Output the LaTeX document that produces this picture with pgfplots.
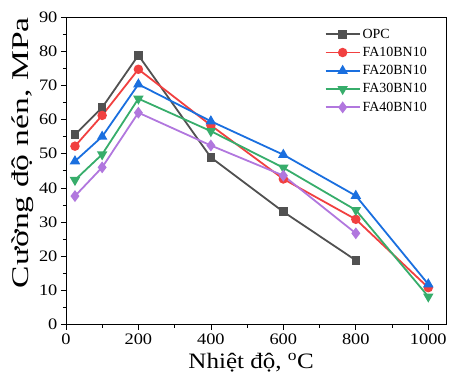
\documentclass[border=0pt]{standalone}
\usepackage{fontspec}
\setmainfont{Liberation Serif}
\newfontfamily\tickfont{Liberation Serif}[FakeStretch=1.15]
\newfontfamily\xlfont{Liberation Serif}[FakeStretch=1.14]
\newfontfamily\ylfont{Liberation Serif}[FakeStretch=1.4]
\usepackage{pgfplots}
\pgfplotsset{compat=1.18}
\definecolor{cOPC}{HTML}{515151}
\definecolor{cA}{HTML}{F14040}
\definecolor{cB}{HTML}{1A6FDF}
\definecolor{cC}{HTML}{37AD6B}
\definecolor{cD}{HTML}{B177DE}
\begin{document}
\begin{tikzpicture}
\begin{axis}[
  scale only axis, width=381pt, height=308pt,
  xmin=0, xmax=1050, ymin=0, ymax=90,
  xtick={0,200,...,1000}, minor x tick num=1,
  ytick={0,10,...,90}, minor y tick num=1,
  xtick pos=lower, ytick pos=left, tick align=outside,
  major tick length=5pt, minor tick length=3pt,
  axis line style={line width=0.8pt}, every tick/.style={line width=0.7pt, black},
  /pgf/number format/assume math mode=true,
  /pgf/number format/1000 sep={},
  ticklabel style={font=\tickfont\fontsize{16}{18}\selectfont},
  xticklabel style={yshift=-1pt},
  xlabel={Nhiệt độ, \textsuperscript{o}C}, ylabel={Cường độ nén, MPa},
  xlabel style={font=\xlfont\fontsize{22}{24}\selectfont, yshift=-1pt, xshift=-5pt},
  ylabel style={font=\ylfont\fontsize{24}{26}\selectfont, yshift=-2pt, xshift=18pt},
  legend style={draw=none, fill=none, at={(0.962,0.975)}, anchor=north east,
    font=\fontsize{14}{15}\selectfont, row sep=3.5pt, cells={anchor=west}},
  legend image code/.code={\draw[mark repeat=2,mark phase=2] plot coordinates {(0pt,0pt) (17pt,0pt) (34pt,0pt)};},
]
\addplot[cOPC, line width=1.8pt, mark=square*, mark size=3.4pt] coordinates {(25,55.6) (100,63.5) (200,78.8) (400,48.9) (600,33) (800,18.8)};
\addlegendentry{OPC}
\addplot[cA, line width=1.8pt, mark=*, mark size=3.8pt] coordinates {(25,52.2) (100,61.2) (200,74.7) (400,58.3) (600,42.6) (800,30.8) (1000,10.8)};
\addlegendentry{FA10BN10}
\addplot[cB, line width=1.8pt, mark=triangle*, mark size=4.3pt] coordinates {(25,47.8) (100,55) (200,70.3) (400,59.5) (600,49.7) (800,37.7) (1000,11.8)};
\addlegendentry{FA20BN10}
\addplot[cC, line width=1.8pt, mark=triangle*, mark options={rotate=180}, mark size=4.3pt] coordinates {(25,42.3) (100,49.8) (200,66.1) (400,56.6) (600,45.9) (800,33.5) (1000,8.2)};
\addlegendentry{FA30BN10}
\addplot[cD, line width=1.8pt, mark=diamond*, mark size=4.5pt] coordinates {(25,37.6) (100,46) (200,62) (400,52.4) (600,43.6) (800,26.7)};
\addlegendentry{FA40BN10}
\end{axis}
\path[use as bounding box] (-66pt,-53pt) rectangle (384pt,325pt);
\end{tikzpicture}
\end{document}
